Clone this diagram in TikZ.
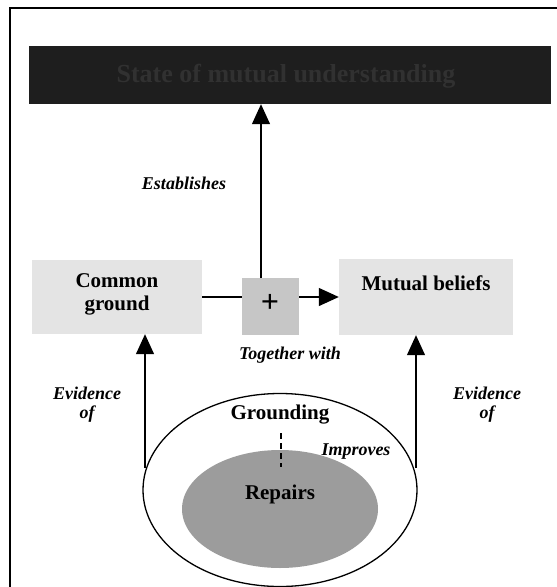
\documentclass[tikz,border=0pt]{standalone}
\usepackage{fontspec}
\setmainfont{Liberation Serif}
\usetikzlibrary{arrows.meta,shapes.geometric}
\definecolor{darkbox}{HTML}{1E1E1E}
\definecolor{darktext}{HTML}{313131}
\definecolor{lightbox}{HTML}{E4E4E4}
\definecolor{plusbox}{HTML}{C6C6C6}
\definecolor{repairfill}{HTML}{9C9C9C}
\tikzset{
  boxnode/.style={draw=none,inner sep=0pt,anchor=center},
  boldlabel/.style={font=\fontsize{21}{23}\selectfont\bfseries,inner sep=0pt,align=center},
  itlabel/.style={font=\fontsize{18}{19}\selectfont\bfseries\itshape,inner sep=0pt,align=center},
  conn/.style={line width=1.3pt},
  arr/.style={line width=1.3pt,-{Triangle[width=18pt,length=20pt]}},
}
\begin{document}
\begin{tikzpicture}[x=1pt,y=-1pt]
\useasboundingbox (0,0) rectangle (557,587);
% frame
\draw[line width=1.5pt] (10,587) -- (10,8) -- (557,8);
% top dark box
\node[boxnode,fill=darkbox,minimum width=522pt,minimum height=58pt] (dark) at (290,75) {};
\node[font=\fontsize{26}{30}\selectfont\bfseries,text=darktext,inner sep=0pt] (darkt) at (286,76) {State of mutual understanding};
% middle boxes
\node[boxnode,fill=lightbox,minimum width=170pt,minimum height=74pt] (cg) at (117,297) {};
\node[boldlabel] (cgt) at (117,294) {Common\\ground};
\node[boxnode,fill=lightbox,minimum width=174pt,minimum height=76pt] (mb) at (426,297) {};
\node[boldlabel] (mbt) at (426,283) {Mutual beliefs};
\node[boxnode,fill=plusbox,minimum width=57pt,minimum height=57pt] (plus) at (270.5,306.5) {};
\node[font=\fontsize{32}{34}\selectfont\bfseries,inner sep=0pt] (plust) at (270,303) {+};
% ellipses
\node[ellipse,draw,line width=1.3pt,fill=white,minimum width=274pt,minimum height=193pt,inner sep=0pt] (outer) at (280,490) {};
\node[ellipse,fill=repairfill,minimum width=196pt,minimum height=118pt,inner sep=0pt] (inner) at (280,509) {};
\node[boldlabel] (gt) at (280,415) {Grounding};
\node[boldlabel] (rt) at (280,494) {Repairs};
\node[itlabel] (imp) at (356,452) {Improves};
\draw[line width=1.3pt,dash pattern=on 6pt off 4pt] (281,433) coordinate (d1) -- (281,467) coordinate (d2);
% labels
\node[itlabel] (est) at (184,183) {Establishes};
\node[itlabel] (tog) at (290,355) {Together with};
\node[itlabel] (evl) at (87,405) {Evidence\\of};
\node[itlabel] (evr) at (487,405) {Evidence\\of};
% connectors
\coordinate (pt) at (261,278);
\draw[arr] (pt) -- (pt |- dark.south);
\draw[conn] (cg.east) -- (plus.west |- cg.east);
\draw[arr] (plus.east |- cg.east) -- (mb.west);
\coordinate (el) at (145,468);
\coordinate (er) at (416,468);
\draw[arr] (el) -- (el |- cg.south);
\draw[arr] (er) -- (er |- mb.south);
\end{tikzpicture}
\end{document}
